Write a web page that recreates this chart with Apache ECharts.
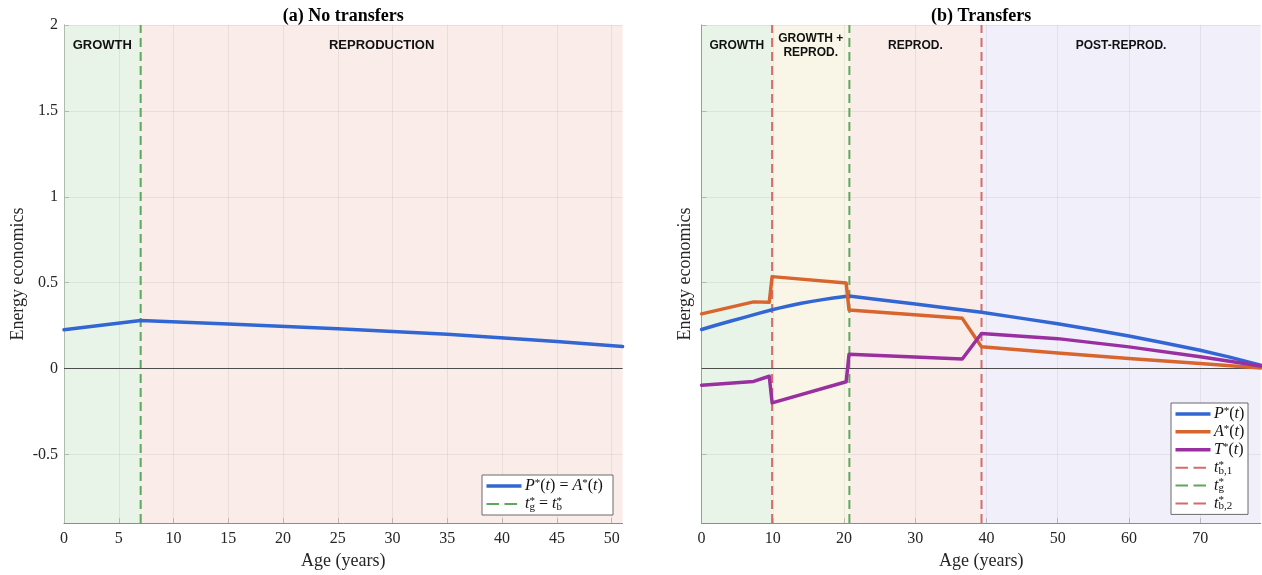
<!DOCTYPE html>
<html>
<head>
<meta charset="utf-8">
<script src="https://cdn.jsdelivr.net/npm/echarts@6/dist/echarts.min.js"></script>
<style>
  html, body { margin: 0; padding: 0; background: #ffffff; }
  #chart { width: 1262px; height: 575px; }
</style>
</head>
<body>
<div id="chart"></div>
<script>
// ---- Shared axis settings ----
const yRange = [-0.9, 2];
const yTicks = [-0.5, 0, 0.5, 1, 1.5, 2];

// ---- Panel (a): no transfers ----
const xRangeA = [0, 51];
const xTicksA = [0, 5, 10, 15, 20, 25, 30, 35, 40, 45, 50];
const ageA = [0, 7, 15, 25, 35, 45, 51];
const prodA = [0.226, 0.279, 0.259, 0.231, 0.199, 0.158, 0.128];
const tStarA = 7;
const regionNamesA = ['GROWTH', 'REPRODUCTION'];
const regionEdgesA = [0, 7, 51];

// ---- Panel (b): transfers ----
const xRangeB = [0, 78.5];
const xTicksB = [0, 10, 20, 30, 40, 50, 60, 70];
const ageP = [0, 2, 4, 6, 8, 9.9, 11, 12.5, 14, 15.5, 17, 18.5, 20.7, 25, 30, 35, 39.3, 45, 50, 55, 60, 65, 70, 74, 78.5];
const prodB = [0.227, 0.252, 0.275, 0.298, 0.321, 0.342, 0.353, 0.367, 0.380, 0.391, 0.401, 0.410, 0.422, 0.401, 0.376, 0.350, 0.327, 0.292, 0.261, 0.226, 0.189, 0.149, 0.106, 0.068, 0.020];
const ageAT = [0, 7.3, 9.5, 9.9, 20.3, 20.7, 36.6, 39.3, 50, 60, 70, 78.5];
const acqB = [0.318, 0.388, 0.386, 0.535, 0.498, 0.340, 0.292, 0.127, 0.091, 0.058, 0.029, 0.003];
const transB = [-0.097, -0.075, -0.045, -0.200, -0.077, 0.083, 0.055, 0.204, 0.174, 0.126, 0.068, 0.015];
const tB1 = 9.9;
const tG = 20.75;
const tB2 = 39.3;
const regionNamesB = ['GROWTH', 'GROWTH +\nREPROD.', 'REPROD.', 'POST-REPROD.'];
const regionEdgesB = [0, 9.9, 20.75, 39.3, 78.5];

// ---- Styling ----
const SERIF = '"Liberation Serif", "Times New Roman", serif';
const SANS = '"Liberation Sans", Arial, Helvetica, sans-serif';
const TEXT = '#262626';
const AXIS = '#8c8c8c';
const BLUE = '#3267d3';
const ORANGE = '#d9652e';
const PURPLE = '#9a2f9f';
const RED_DASH = '#d66b6b';
const GREEN_DASH = '#5fa65f';
const DASH = [9, 5];
const LEGEND_DASH = [12.5, 5.5];
const CURVE_W = 3.5;
const DASH_W = 2;
const fillsA = ['rgba(211,233,211,0.5)', 'rgba(245,219,211,0.5)'];
const fillsB = ['rgba(211,233,211,0.5)', 'rgba(243,237,209,0.5)', 'rgba(245,219,211,0.5)', 'rgba(227,223,245,0.5)'];

const grids = [
  { left: 64, top: 25, width: 558.6, height: 500 },
  { left: 701.6, top: 25, width: 559.1, height: 500 }
];

function pairs(xs, ys) { return xs.map((x, i) => [x, ys[i]]); }

function xAxisFor(gi, range, ticks) {
  return {
    type: 'value', gridIndex: gi, min: range[0], max: range[1],
    name: 'Age (years)', nameLocation: 'middle', nameGap: 22,
    nameTextStyle: { fontFamily: SERIF, fontSize: 18, color: TEXT },
    axisLine: { show: true, onZero: false, lineStyle: { color: AXIS, width: 1 } },
    axisTick: { show: true, inside: true, length: 5, customValues: ticks, lineStyle: { color: AXIS } },
    axisLabel: { customValues: ticks, fontFamily: SERIF, fontSize: 16, color: TEXT, margin: 8 },
    splitLine: { show: true, lineStyle: { color: 'rgba(0,0,0,0.12)', width: 1 } }
  };
}

function yAxisFor(gi, showLabels, gap) {
  return {
    type: 'value', gridIndex: gi, min: yRange[0], max: yRange[1],
    name: 'Energy economics', nameLocation: 'middle', nameGap: gap,
    nameTextStyle: { fontFamily: SERIF, fontSize: 18, color: TEXT },
    axisLine: { show: true, onZero: false, lineStyle: { color: AXIS, width: 1 } },
    axisTick: { show: true, inside: true, length: 5, customValues: yTicks, lineStyle: { color: AXIS } },
    axisLabel: { show: showLabels, customValues: yTicks, fontFamily: SERIF, fontSize: 16, color: TEXT, margin: 6 },
    splitLine: { show: true, lineStyle: { color: 'rgba(0,0,0,0.12)', width: 1 } }
  };
}

// Phase shading, phase labels and the zero line
function backgroundSeries(gi, names, edges, fills, labelSize) {
  return {
    type: 'line', xAxisIndex: gi, yAxisIndex: gi, data: [], silent: true, z: 1,
    markArea: {
      silent: true,
      label: {
        show: true, position: 'insideTop', distance: 20.5, verticalAlign: 'middle', align: 'center',
        fontFamily: SANS, fontWeight: 'bold', fontSize: labelSize, lineHeight: 14, color: '#111'
      },
      data: names.map((nm, i) => [
        { name: nm, xAxis: edges[i], itemStyle: { color: fills[i] } },
        { xAxis: edges[i + 1] }
      ])
    },
    markLine: {
      silent: true, symbol: 'none', label: { show: false },
      lineStyle: { color: '#4d4d4d', width: 1, type: 'solid' },
      data: [{ yAxis: 0 }]
    }
  };
}

function vLine(gi, name, t, color) {
  return {
    type: 'line', name: name, xAxisIndex: gi, yAxisIndex: gi, z: 3,
    data: [[t, yRange[0]], [t, yRange[1]]],
    symbol: 'none', silent: true,
    lineStyle: { color: color, width: DASH_W, type: DASH },
    itemStyle: { color: color }
  };
}

function curve(gi, name, xs, ys, color, z) {
  return {
    type: 'line', name: name, xAxisIndex: gi, yAxisIndex: gi, z: z,
    data: pairs(xs, ys), symbol: 'none', silent: true,
    lineStyle: { color: color, width: CURVE_W, join: 'round', cap: 'round' },
    itemStyle: { color: color }
  };
}

// ---- Legend boxes with math labels ----
const mathRich = {
  n: { fontFamily: SERIF, fontSize: 16, lineHeight: 17, fill: '#111' },
  i: { fontFamily: SERIF, fontStyle: 'italic', fontSize: 16, lineHeight: 17, fill: '#111' },
  sup: { fontFamily: SERIF, fontSize: 11, lineHeight: 11, verticalAlign: 'top', fill: '#111' },
  supz: { fontFamily: SERIF, fontSize: 11, lineHeight: 11, verticalAlign: 'top', width: 0, fill: '#111' },
  sub: { fontFamily: SERIF, fontSize: 11, lineHeight: 11, verticalAlign: 'bottom', fill: '#111' }
};
const legendEntriesA = [
  { label: '{i|P}{sup|*}{n|(}{i|t}{n|) = }{i|A}{sup|*}{n|(}{i|t}{n|)}', color: BLUE, width: CURVE_W, dash: null },
  { label: '{i|t}{supz|*}{sub|g}{n| = }{i|t}{supz|*}{sub|b}', color: GREEN_DASH, width: DASH_W, dash: LEGEND_DASH }
];
const legendEntriesB = [
  { label: '{i|P}{sup|*}{n|(}{i|t}{n|)}', color: BLUE, width: CURVE_W, dash: null },
  { label: '{i|A}{sup|*}{n|(}{i|t}{n|)}', color: ORANGE, width: CURVE_W, dash: null },
  { label: '{i|T}{sup|*}{n|(}{i|t}{n|)}', color: PURPLE, width: CURVE_W, dash: null },
  { label: '{i|t}{supz|*}{sub|b,1}', color: RED_DASH, width: DASH_W, dash: LEGEND_DASH },
  { label: '{i|t}{supz|*}{sub|g}', color: GREEN_DASH, width: DASH_W, dash: LEGEND_DASH },
  { label: '{i|t}{supz|*}{sub|b,2}', color: RED_DASH, width: DASH_W, dash: LEGEND_DASH }
];

function legendBox(entries, left, top, width, rowH) {
  const pad = 2;
  const Z = 100;
  const height = pad * 2 + rowH * entries.length;
  const children = [{
    type: 'rect', z: Z, shape: { x: 0, y: 0, width: width, height: height },
    style: { fill: '#ffffff', stroke: '#6b6b6b', lineWidth: 1 }
  }];
  entries.forEach((e, i) => {
    const cy = pad + rowH * i + rowH / 2;
    children.push({
      type: 'line', z: Z + 1, shape: { x1: 4.5, y1: cy, x2: 39.5, y2: cy },
      style: { stroke: e.color, lineWidth: e.width, lineDash: e.dash || null }
    });
    children.push({
      type: 'text', z: Z + 1, x: 43, y: cy,
      style: { text: e.label, rich: mathRich, fill: '#111', verticalAlign: 'middle', align: 'left',
               fontFamily: SERIF, fontSize: 16 }
    });
  });
  return { type: 'group', x: left, y: top, z: Z, silent: true, children: children };
}

const chart = echarts.init(document.getElementById('chart'), null, { renderer: 'canvas' });

const option = {
  animation: false,
  backgroundColor: '#ffffff',
  grid: grids,
  xAxis: [xAxisFor(0, xRangeA, xTicksA), xAxisFor(1, xRangeB, xTicksB)],
  yAxis: [yAxisFor(0, true, 37), yAxisFor(1, false, 7)],
  graphic: [
    { type: 'text', x: grids[0].left + grids[0].width / 2, y: 16, z: 100,
      style: { text: '(a) No transfers', font: 'bold 18px ' + SERIF, fill: '#000', align: 'center', verticalAlign: 'middle' } },
    { type: 'text', x: grids[1].left + grids[1].width / 2, y: 16, z: 100,
      style: { text: '(b) Transfers', font: 'bold 18px ' + SERIF, fill: '#000', align: 'center', verticalAlign: 'middle' } },
    legendBox(legendEntriesA, 482, 475, 131, 18),
    legendBox(legendEntriesB, 1171, 403, 77, 17.9)
  ],
  series: [
    backgroundSeries(0, regionNamesA, regionEdgesA, fillsA, 13),
    vLine(0, 'tgb_a', tStarA, GREEN_DASH),
    curve(0, 'P_a', ageA, prodA, BLUE, 4),

    backgroundSeries(1, regionNamesB, regionEdgesB, fillsB, 12),
    vLine(1, 'tb1', tB1, RED_DASH),
    vLine(1, 'tg', tG, GREEN_DASH),
    vLine(1, 'tb2', tB2, RED_DASH),
    curve(1, 'P_b', ageP, prodB, BLUE, 4),
    curve(1, 'A_b', ageAT, acqB, ORANGE, 5),
    curve(1, 'T_b', ageAT, transB, PURPLE, 6)
  ]
};

chart.setOption(option);
</script>
</body>
</html>
